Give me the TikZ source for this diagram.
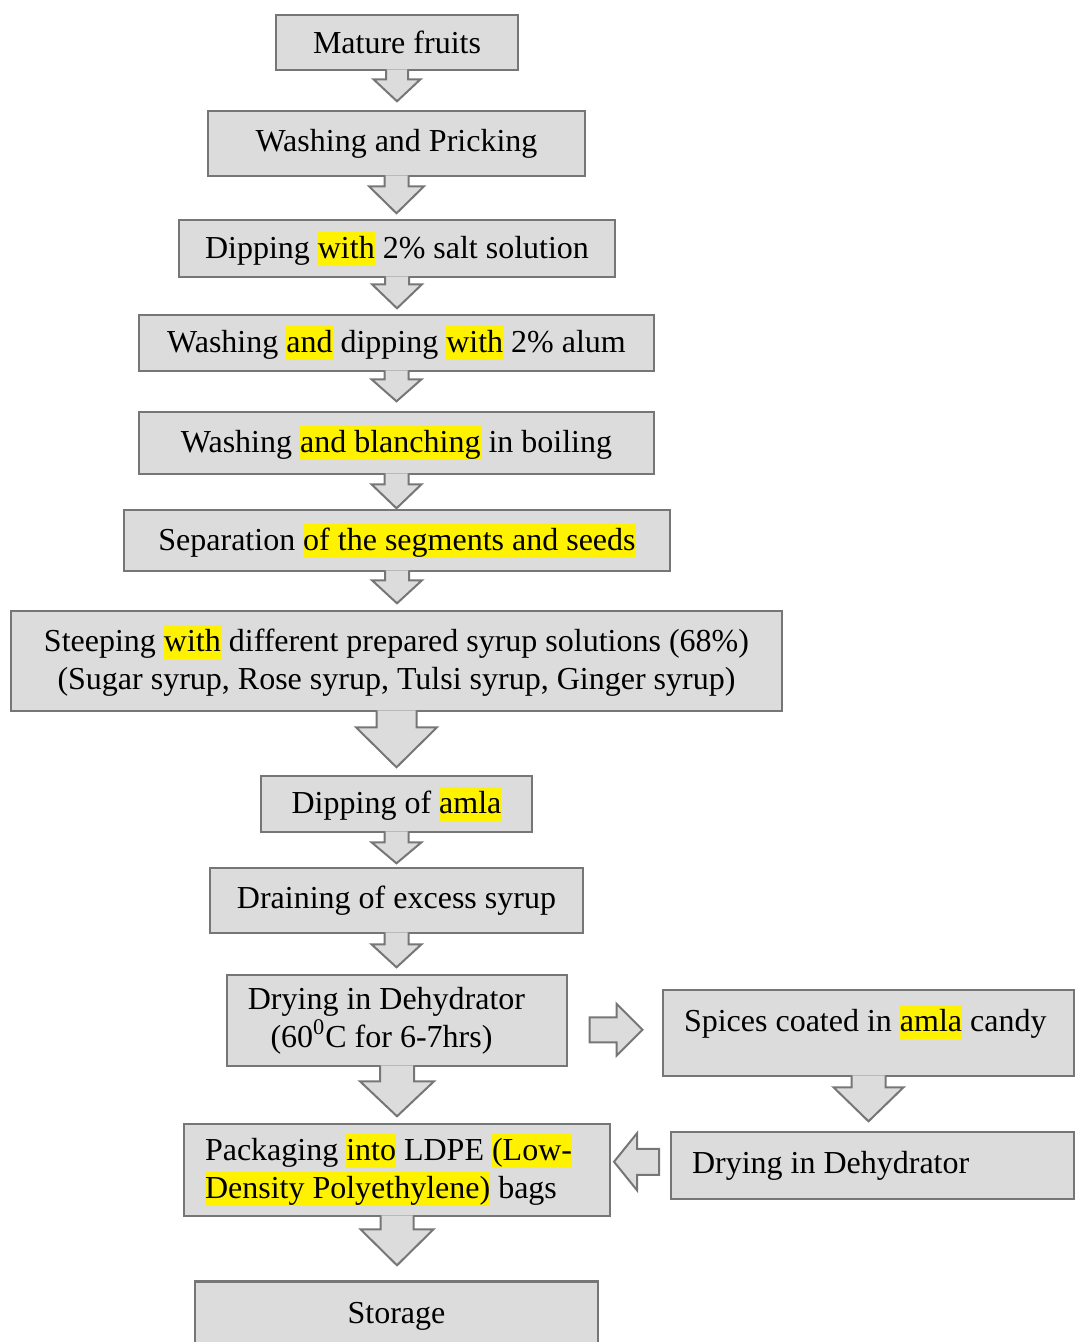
\documentclass[tikz,border=0pt]{standalone}
\usepackage{fontspec}
\setmainfont{Liberation Serif}
\usepackage{tikz}
\usetikzlibrary{calc,positioning}
\definecolor{boxgray}{HTML}{DCDCDC}
\definecolor{edgegray}{HTML}{767676}
\newcommand{\hl}[1]{{\setlength{\fboxsep}{0pt}\colorbox{yellow}{\rule[-0.22em]{0pt}{1.05em}#1}}}
% block arrow down: node, shaft, head, half shaft, half head
\newcommand{\flowdown}[5]{\draw[blockarrow] ($(#1.south)+(-#4,-2)$) -- ++(0,#2+2) -- ++(#4-#5,0) -- ++(#5,#3) -- ++(#5,-#3) -- ++(#4-#5,0) -- ++(0,-#2-2);}
\newcommand{\flowright}[1]{\draw[blockarrow] (#1) ++(-26,-12.5) -- ++(27,0) -- ++(0,-13.5) -- ++(26,26) -- ++(-26,26) -- ++(0,-13.5) -- ++(-27,0) -- cycle;}
\newcommand{\flowleft}[1]{\draw[blockarrow] (#1) ++(22.5,-13) -- ++(-22,0) -- ++(0,-15.5) -- ++(-23,28.5) -- ++(23,28.5) -- ++(0,-15.5) -- ++(22,0) -- cycle;}

\begin{document}
\begin{tikzpicture}[x=0.5pt,y=-0.5pt,
	flowbox/.style={draw=edgegray, fill=boxgray, line width=1.3pt, inner sep=0pt, align=center, font=\fontsize{16}{19}\selectfont},
	blockarrow/.style={draw=edgegray, fill=boxgray, line width=1pt, line join=miter}]
		\useasboundingbox (0,0) rectangle (1080,1342);
		% main column
		\node[flowbox, minimum width=121pt, minimum height=27.5pt] (mature) at (397,42.5) {Mature fruits};
		\node[flowbox, minimum width=188.5pt, minimum height=32.5pt] (wash) at (396.5,143.5) {Washing and Pricking};
		\node[flowbox, minimum width=218pt, minimum height=28.5pt] (salt) at (397,248.5) {Dipping \hl{with} 2\% salt solution};
		\node[flowbox, minimum width=257.5pt, minimum height=28pt] (alum) at (396.5,343) {Washing \hl{and} dipping \hl{with} 2\% alum};
		\node[flowbox, minimum width=257.5pt, minimum height=31pt] (blanch) at (396.5,443) {Washing \hl{and blanching} in boiling};
		\node[flowbox, minimum width=273pt, minimum height=30.5pt] (separ) at (397,540.5) {Separation \hl{of the segments and seeds}};
		\node[flowbox, minimum width=385.5pt, minimum height=50pt] (steep) at (396.5,661) {Steeping \hl{with} different prepared syrup solutions (68\%)\\(Sugar syrup, Rose syrup, Tulsi syrup, Ginger syrup)};
		\node[flowbox, minimum width=135.5pt, minimum height=28pt] (amla) at (396.5,804) {Dipping of \hl{amla}};
		\node[flowbox, minimum width=186.5pt, minimum height=32.5pt] (drain) at (396.5,900.5) {Draining of excess syrup};
		\node[flowbox, minimum width=170pt, minimum height=45.5pt] (dry) at (397,1020.5) {Drying in Dehydrator\hspace*{10.5pt}\\(60\textsuperscript{0}C for 6-7hrs)\hspace*{15.5pt}};
		\node[flowbox, text width=192pt, inner xsep=10.5pt, align=flush left, minimum height=46pt] (pack) at (397,1170) {Packaging \hl{into} LDPE \hl{(Low-}\\\hl{Density Polyethylene)} bags};
		\node[flowbox, anchor=north, minimum width=201.5pt, minimum height=35pt] (store) at (396.5,1280) {Storage};
		% side branch
		\node[flowbox, inner xsep=10.5pt, minimum height=43pt, text height=13.3pt, text depth=14.5pt] (spices) at (868.5,1033) {\makebox[184.5pt][l]{Spices coated in \hl{amla} candy}};
		\node[flowbox, inner xsep=10.5pt, minimum height=33.5pt] (dryr) at (872.5,1165.5) {\makebox[180.5pt][l]{Drying in Dehydrator}};
		% arrows
		\flowdown{mature}{8}{22}{11}{23.5}
		\flowdown{wash}{9}{27}{12}{27.5}
		\flowdown{salt}{6}{24}{12}{25}
		\flowdown{alum}{7}{22}{12}{25}
		\flowdown{blanch}{9}{24}{12}{25}
		\flowdown{separ}{8}{23}{12}{25}
		\flowdown{steep}{15}{40}{20}{40.5}
		\flowdown{amla}{9}{21}{12}{25}
		\flowdown{drain}{10}{23}{12}{25}
		\flowdown{dry}{14}{35}{17}{37}
		\flowdown{pack}{12}{36}{16.5}{36.5}
		\flowdown{spices}{10}{34}{17}{35}
		\coordinate (toright) at ($(dry.east)!0.5!(spices.west)+(0.5,3)$);
		\coordinate (toleft) at ($(pack.east)!0.5!(dryr.west)+(-4,-6)$);
		\flowright{toright}
		\flowleft{toleft}
\end{tikzpicture}
\end{document}
